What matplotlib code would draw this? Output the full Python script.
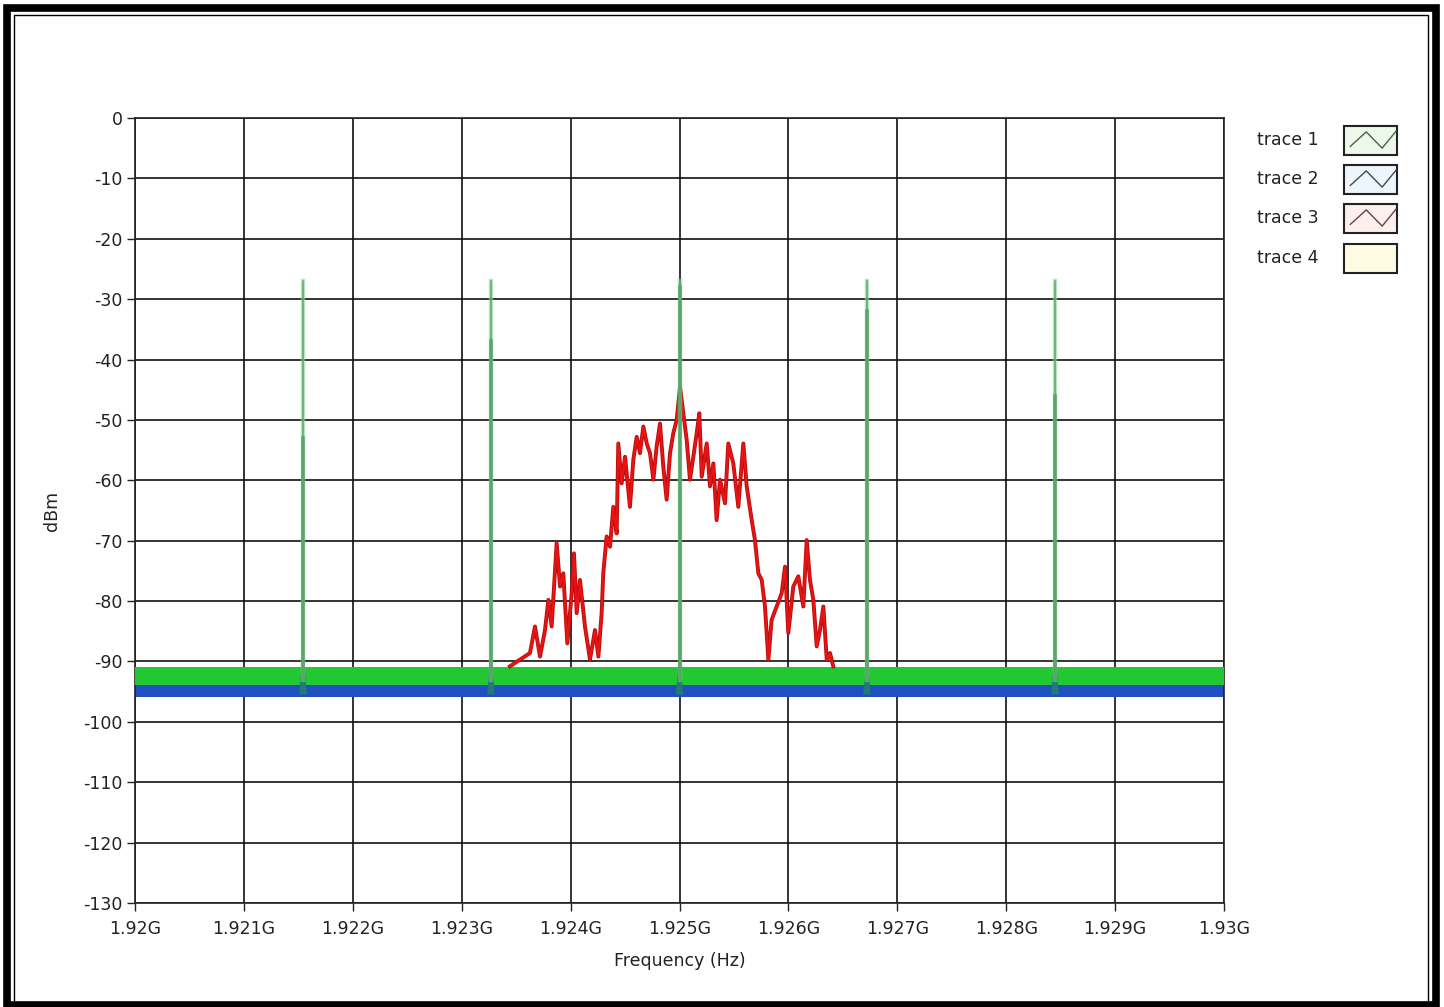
import numpy as np
import matplotlib
matplotlib.use("Agg")
import matplotlib.pyplot as plt
from matplotlib.patches import Rectangle

# ---- data ----
x_ticks_mhz = [1920, 1921, 1922, 1923, 1924, 1925, 1926, 1927, 1928, 1929, 1930]
x_tick_labels = ["1.92G", "1.921G", "1.922G", "1.923G", "1.924G", "1.925G",
                 "1.926G", "1.927G", "1.928G", "1.929G", "1.93G"]
y_ticks = [0, -10, -20, -30, -40, -50, -60, -70, -80, -90, -100, -110, -120, -130]

# trace 1 (green) and trace 2 (blue) noise floor, dBm
green_floor = [-93.9, -90.9]
blue_floor = [-95.9, -93.6]

# carrier spikes (trace 1)
spike_freq_mhz = [1921.543, 1923.269, 1925.0, 1926.722, 1928.448]
spike_peak = [-27, -27, -27, -27, -27]
spike_body = [-53, -37, -28, -32, -46]
spike_base = [-87.5, -87.5, -88.5, -88.5, -87.5]

# trace 3 (red) modulated spectrum
red_freq_mhz = [1923.443, 1923.627, 1923.673, 1923.719, 1923.765, 1923.796, 1923.826,
                1923.872, 1923.903, 1923.933, 1923.970, 1924.010, 1924.031, 1924.056,
                1924.086, 1924.132, 1924.178, 1924.224, 1924.255, 1924.285, 1924.300,
                1924.331, 1924.362, 1924.392, 1924.423, 1924.438, 1924.469, 1924.500,
                1924.545, 1924.576, 1924.607, 1924.637, 1924.668, 1924.699, 1924.729,
                1924.760, 1924.790, 1924.821, 1924.851, 1924.882, 1924.913, 1924.943,
                1924.974, 1925.005, 1925.035, 1925.066, 1925.096, 1925.127, 1925.158,
                1925.182, 1925.204, 1925.250, 1925.280, 1925.311, 1925.341, 1925.372,
                1925.418, 1925.448, 1925.494, 1925.540, 1925.586, 1925.617, 1925.663,
                1925.693, 1925.724, 1925.755, 1925.785, 1925.816, 1925.846, 1925.892,
                1925.938, 1925.969, 1925.999, 1926.045, 1926.091, 1926.137, 1926.168,
                1926.198, 1926.229, 1926.260, 1926.290, 1926.321, 1926.352, 1926.382,
                1926.412]
red_dbm = [-90.8, -88.6, -84.2, -89.2, -84.8, -79.8, -84.2,
           -70.4, -77.6, -75.4, -87.0, -78.7, -72.1, -82.0,
           -76.5, -84.2, -89.7, -84.8, -89.2, -82.0, -75.4,
           -69.3, -71.0, -64.4, -68.8, -53.9, -60.5, -56.1,
           -64.4, -56.6, -52.8, -55.5, -51.1, -53.9, -55.5,
           -59.9, -54.4, -50.6, -57.7, -63.2, -55.5, -52.2,
           -50.0, -44.5, -48.9, -53.3, -59.9, -56.1, -52.2,
           -48.9, -59.4, -53.9, -61.0, -57.2, -66.6, -59.9,
           -63.8, -53.9, -57.2, -64.4, -53.9, -61.0, -66.6,
           -69.9, -75.4, -76.5, -80.9, -89.7, -83.1, -80.9,
           -78.7, -74.3, -85.3, -77.6, -75.9, -80.9, -69.9,
           -76.5, -79.8, -87.5, -84.8, -80.9, -89.7, -88.6,
           -90.8]

trace_names = ["trace 1", "trace 2", "trace 3", "trace 4"]
trace_box_colors = ["#eef8ea", "#eef5fb", "#fbeff0", "#fdfbe2"]
trace_icon_colors = ["#4d5e4d", "#3d4a58", "#6a4040", None]

plt.rcParams["axes.unicode_minus"] = False
plt.rcParams["font.family"] = ["DejaVu Sans"]

W, H = 1444, 1007
fig = plt.figure(figsize=(W / 100, H / 100), dpi=100)
fig.patch.set_facecolor("white")

ax = fig.add_axes([135 / W, 1 - 903 / H, (1224 - 135) / W, (903 - 118) / H])
ax.set_facecolor("white")

to_hz = lambda v: np.asarray(v) * 1e6
f_lo, f_hi = to_hz(x_ticks_mhz[0]), to_hz(x_ticks_mhz[-1])

# noise floors
ax.fill_between([f_lo, f_hi], blue_floor[0], blue_floor[1], color="#1f4fc0", lw=0, zorder=2)
ax.fill_between([f_lo, f_hi], green_floor[0], green_floor[1], color="#22c832", lw=0, zorder=3)

# red modulated signal
ax.plot(to_hz(red_freq_mhz), red_dbm, color="#b80c0c", lw=2.8, zorder=4)
ax.plot(to_hz(red_freq_mhz), red_dbm, color="#e81414", lw=1.6, zorder=4)

# spikes
sf = to_hz(spike_freq_mhz)
half_base = 0.035e6
for f, pk, body, base in zip(sf, spike_peak, spike_body, spike_base):
    ax.fill([f - half_base, f, f + half_base], [-95.5, base, -95.5],
            color="#1f7a78", lw=0, zorder=5)
    ax.plot([f, f], [-93, pk], color="#8fd39a", lw=3.2, alpha=0.6, zorder=5)
    ax.plot([f, f], [-93, body], color="#5aa66a", lw=2.6, zorder=6)
    ax.plot([f, f], [body, pk], color="#5aa66a", lw=1.1, zorder=6)

ax.set_xlim(f_lo, f_hi)
ax.set_ylim(-130, 0)
ax.set_xticks(to_hz(x_ticks_mhz))
ax.set_xticklabels(x_tick_labels)
ax.set_yticks(y_ticks)
ax.set_yticklabels([str(v) for v in y_ticks])
ax.grid(True, color="#111111", lw=1.2)
ax.set_axisbelow(True)
ax.tick_params(direction="out", length=6, width=1, colors="#222222",
               labelsize=12.5, pad=3)
ax.tick_params(axis="x", pad=6)
for s in ax.spines.values():
    s.set_color("#222222")
    s.set_linewidth(1.2)
ax.set_xlabel("Frequency (Hz)", fontsize=12.5, color="#222222", labelpad=10)
ax.set_ylabel("dBm", fontsize=12.5, color="#222222", labelpad=16)

# overlay in pixel units for frame and legend
ov = fig.add_axes([0, 0, 1, 1], zorder=10)
ov.set_xlim(0, W)
ov.set_ylim(H, 0)
ov.axis("off")
ov.patch.set_alpha(0)
ov.add_patch(Rectangle((7, 8), 1429, 997, fill=False, ec="black", lw=5.5))
ov.add_patch(Rectangle((14, 15), 1414, 988, fill=False, ec="black", lw=1.0))

rows_y = [140, 179, 218, 258]
zig_x = [0.12, 0.42, 0.72, 0.98]
zig_y = [0.72, 0.22, 0.78, 0.2]
bx0, bw, bh = 1344, 53, 29
for name, yc, fc, lc in zip(trace_names, rows_y, trace_box_colors, trace_icon_colors):
    ov.text(1257, yc, name, fontsize=12.5, color="#222222", va="center", ha="left")
    ov.add_patch(Rectangle((bx0, yc - bh / 2), bw, bh, fc=fc, ec="#222222", lw=1.5))
    if lc:
        ov.plot([bx0 + bw * v for v in zig_x],
                [yc - bh / 2 + bh * v for v in zig_y], color=lc, lw=1.0)

fig.savefig("out.png", dpi=100)
